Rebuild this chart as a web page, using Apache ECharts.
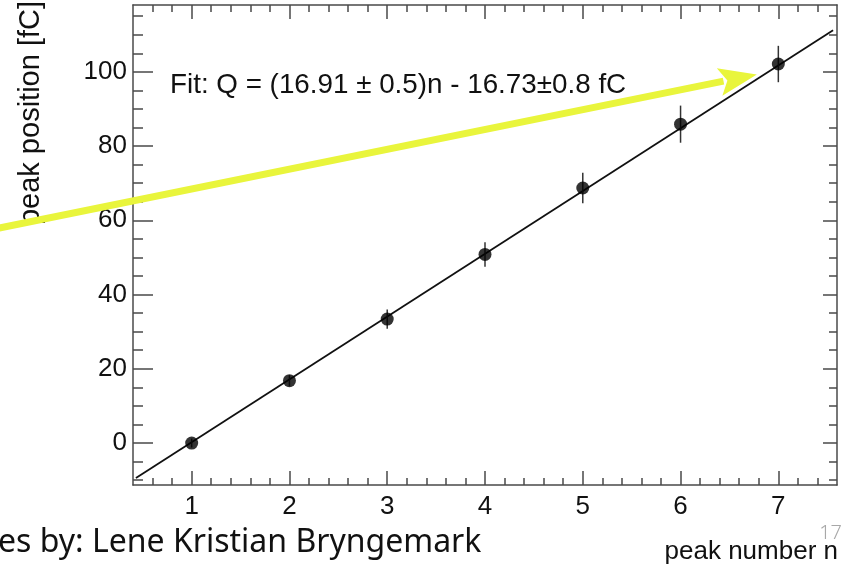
<!DOCTYPE html>
<html>
<head>
<meta charset="utf-8">
<script src="https://cdn.jsdelivr.net/npm/echarts@6/dist/echarts.min.js"></script>
<style>
  html, body { margin: 0; padding: 0; background: #fff; }
  #chart { width: 842px; height: 566px; }
</style>
</head>
<body>
<div id="chart"></div>
<script>
// peak positions
const peakN = [1, 2, 3, 4, 5, 6, 7]
const peakQ = [0, 16.8, 33.4, 50.8, 68.7, 85.9, 102.1]
const peakErr = [1.2, 1.5, 2.6, 3.3, 4.1, 5.0, 4.9]

// fit line ends, as drawn
const fitX = [0.43, 7.56]
const fitY = [-9.4, 111.2]

// yellow arrow (data coords), starts off the left edge
const arrowStart = [-0.97, 57.9]
const arrowEnd = [6.78, 99.3]

const xTicks = [1, 2, 3, 4, 5, 6, 7]
const xMinorTicks = [0.6, 0.8, 1.2, 1.4, 1.6, 1.8, 2.2, 2.4, 2.6, 2.8, 3.2, 3.4, 3.6, 3.8,
  4.2, 4.4, 4.6, 4.8, 5.2, 5.4, 5.6, 5.8, 6.2, 6.4, 6.6, 6.8, 7.2, 7.4]
const yTicks = [0, 20, 40, 60, 80, 100]
const yMinorTicks = [-10, -5, 5, 10, 15, 25, 30, 35, 45, 50, 55, 65, 70, 75, 85, 90, 95, 105, 110, 115]

const xRange = [0.4, 7.6]
const yRange = [-11.3, 118]

const fitLabel = 'Fit: Q = (16.91 \u00b1 0.5)n - 16.73\u00b10.8 fC'
const xTitle = 'peak number n'
const yTitle = 'peak position [fC]'
const footer = 'es by: Lene Kristian Bryngemark'
const pageNo = '17'

const frameColor = '#4a4a4a'
const axisFont = 'Liberation Sans, Arial, Helvetica, sans-serif'

function frameAxis(pos, grid, ticks, len, labels) {
  const horizontal = pos === 'bottom' || pos === 'top'
  const range = horizontal ? xRange : yRange
  return {
    type: 'value',
    gridIndex: grid,
    position: pos,
    min: range[0],
    max: range[1],
    splitLine: { show: false },
    axisLine: { show: grid === 0, onZero: false, lineStyle: { color: frameColor, width: 1.5 } },
    axisTick: {
      inside: true,
      length: len,
      customValues: ticks,
      lineStyle: { color: frameColor, width: 1.5 }
    },
    axisLabel: labels ? {
      show: true,
      customValues: ticks,
      margin: horizontal ? 9 : 6,
      color: '#111',
      fontSize: 26,
      fontFamily: axisFont
    } : { show: false }
  }
}

const chart = echarts.init(document.getElementById('chart'))

const option = {
  animation: false,
  backgroundColor: '#fff',
  grid: [
    { left: 133, top: 5, right: 5, bottom: 81 },
    { left: 133, top: 5, right: 5, bottom: 81 }
  ],
  xAxis: [
    frameAxis('bottom', 0, xTicks, 14, true),
    frameAxis('top', 0, xTicks, 14, false),
    frameAxis('bottom', 1, xMinorTicks, 7, false),
    frameAxis('top', 1, xMinorTicks, 7, false)
  ],
  yAxis: [
    frameAxis('left', 0, yTicks, 20, true),
    frameAxis('right', 0, yTicks, 14, false),
    frameAxis('left', 1, yMinorTicks, 10, false),
    frameAxis('right', 1, yMinorTicks, 8, false)
  ],
  series: [
    {
      type: 'line',
      xAxisIndex: 0,
      yAxisIndex: 0,
      data: fitX.map((x, i) => [x, fitY[i]]),
      showSymbol: false,
      lineStyle: { color: '#111', width: 1.8 },
      z: 2
    },
    {
      type: 'custom',
      xAxisIndex: 0,
      yAxisIndex: 0,
      data: peakN.map((n, i) => [n, peakQ[i] - peakErr[i], peakQ[i] + peakErr[i]]),
      renderItem(params, api) {
        const lo = api.coord([api.value(0), api.value(1)])
        const hi = api.coord([api.value(0), api.value(2)])
        return {
          type: 'line',
          shape: { x1: lo[0], y1: lo[1], x2: hi[0], y2: hi[1] },
          style: { stroke: '#333', lineWidth: 1.5 }
        }
      },
      z: 3
    },
    {
      type: 'scatter',
      xAxisIndex: 0,
      yAxisIndex: 0,
      data: peakN.map((n, i) => [n, peakQ[i]]),
      symbolSize: 13,
      itemStyle: { color: '#000' },
      z: 4
    },
    {
      type: 'custom',
      xAxisIndex: 0,
      yAxisIndex: 0,
      clip: false,
      data: [[arrowStart[0], arrowStart[1], arrowEnd[0], arrowEnd[1]]],
      renderItem(params, api) {
        const a = api.coord([api.value(0), api.value(1)])
        const b = api.coord([api.value(2), api.value(3)])
        const dx = b[0] - a[0]
        const dy = b[1] - a[1]
        const len = Math.sqrt(dx * dx + dy * dy)
        const ux = dx / len
        const uy = dy / len
        const headLen = 38
        const headHalf = 14
        const bx = b[0] - ux * headLen
        const by = b[1] - uy * headLen
        return {
          type: 'group',
          children: [
            {
              type: 'line',
              shape: { x1: a[0], y1: a[1], x2: bx + ux * 4, y2: by + uy * 4 },
              style: { stroke: '#e9f53c', lineWidth: 7 }
            },
            {
              type: 'polygon',
              shape: {
                points: [
                  [b[0], b[1]],
                  [bx - uy * headHalf, by + ux * headHalf],
                  [bx + ux * 8, by + uy * 8],
                  [bx + uy * headHalf, by - ux * headHalf]
                ]
              },
              style: { fill: '#e9f53c' }
            }
          ]
        }
      },
      z: 10
    }
  ],
  graphic: [
    {
      type: 'text',
      x: 170,
      y: 85,
      style: {
        text: fitLabel,
        fill: '#111',
        font: '27.8px ' + axisFont,
        verticalAlign: 'middle'
      },
      z: 5
    },
    {
      type: 'text',
      x: 31,
      y: 1,
      rotation: Math.PI / 2,
      style: {
        text: yTitle,
        fill: '#111',
        font: '29px ' + axisFont,
        align: 'right',
        verticalAlign: 'middle'
      },
      z: 1
    },
    {
      type: 'text',
      x: 838,
      y: 539,
      style: {
        text: xTitle,
        fill: '#111',
        font: '26px ' + axisFont,
        align: 'right',
        verticalAlign: 'top'
      }
    },
    {
      type: 'text',
      x: -2,
      y: 527,
      style: {
        text: footer,
        fill: '#111',
        font: '32px "Noto Sans", "Open Sans", sans-serif',
        align: 'left',
        verticalAlign: 'top'
      }
    },
    {
      type: 'text',
      x: 842,
      y: 523,
      style: {
        text: pageNo,
        fill: '#a8a8a8',
        font: '300 20px "Noto Sans", sans-serif',
        align: 'right',
        verticalAlign: 'top'
      }
    }
  ]
}

chart.setOption(option)
</script>
</body>
</html>
